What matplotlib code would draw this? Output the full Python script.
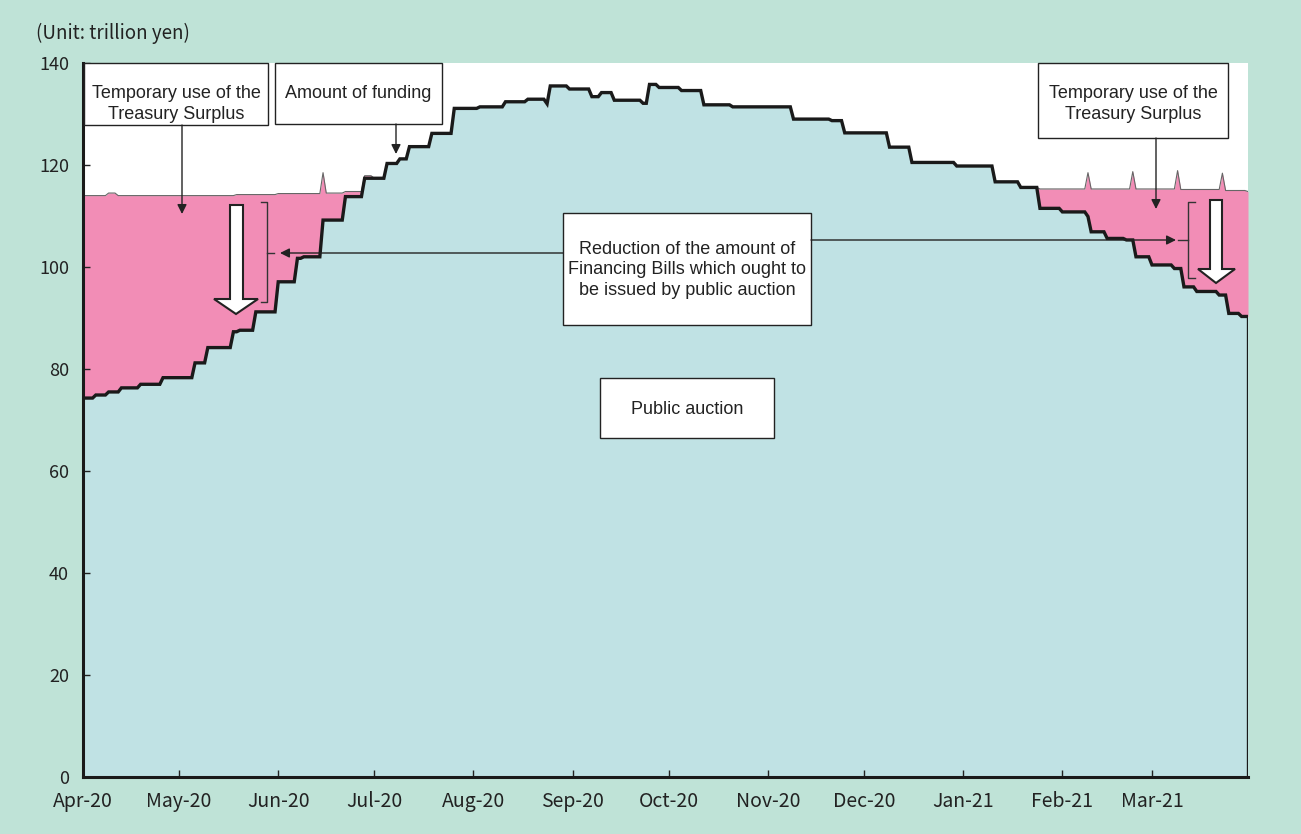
import numpy as np
import pandas as pd
import matplotlib
matplotlib.use("Agg")
import matplotlib.pyplot as plt
import matplotlib.patches as mpatches

# ─── Data (trillion yen), step values ────────────────────────────────────────
auction_dates = ["2020-04-01", "2020-04-05", "2020-04-09", "2020-04-13", "2020-04-19",
                 "2020-04-26", "2020-05-06", "2020-05-10", "2020-05-18", "2020-05-20",
                 "2020-05-25", "2020-06-01", "2020-06-07", "2020-06-09", "2020-06-15",
                 "2020-06-22", "2020-06-28", "2020-07-05", "2020-07-09", "2020-07-12",
                 "2020-07-19", "2020-07-26", "2020-08-03", "2020-08-11", "2020-08-18",
                 "2020-08-24", "2020-08-25", "2020-08-31", "2020-09-07", "2020-09-10",
                 "2020-09-14", "2020-09-23", "2020-09-25", "2020-09-28", "2020-10-05",
                 "2020-10-12", "2020-10-21", "2020-11-09", "2020-11-21", "2020-11-25",
                 "2020-12-09", "2020-12-16", "2020-12-30", "2021-01-11", "2021-01-19",
                 "2021-01-25", "2021-02-01", "2021-02-09", "2021-02-10", "2021-02-15",
                 "2021-02-21", "2021-02-24", "2021-03-01", "2021-03-08", "2021-03-11",
                 "2021-03-15", "2021-03-22", "2021-03-25", "2021-03-29", "2021-03-31"]
auction_vals = [74.3, 74.9, 75.5, 76.3, 77.0,
                78.3, 81.2, 84.2, 87.3, 87.6,
                91.2, 97.1, 101.7, 102.0, 109.2,
                113.8, 117.4, 120.3, 121.2, 123.6,
                126.2, 131.1, 131.4, 132.4, 132.9,
                132.0, 135.5, 134.9, 133.4, 134.2,
                132.7, 132.1, 135.8, 135.2, 134.6,
                131.8, 131.4, 129.0, 128.7, 126.3,
                123.5, 120.5, 119.8, 116.7, 115.6,
                111.5, 110.8, 109.9, 106.9, 105.6,
                105.3, 102.0, 100.4, 99.7, 96.1,
                95.2, 94.5, 90.9, 90.3, 90.3]

# amount of funding while the Treasury Surplus is used (outside it equals auction)
funding_dates = ["2020-04-01", "2020-04-09", "2020-04-12", "2020-05-19", "2020-06-01",
                 "2020-06-15", "2020-06-16", "2020-06-22", "2020-06-28",
                 "2021-01-25", "2021-02-09", "2021-02-10", "2021-02-23", "2021-02-24",
                 "2021-03-09", "2021-03-10", "2021-03-23", "2021-03-24", "2021-03-31"]
funding_vals = [114.0, 114.5, 114.0, 114.2, 114.4,
                118.5, 114.5, 114.8, 117.9,
                115.3, 118.5, 115.3, 118.7, 115.3,
                118.9, 115.2, 118.4, 115.0, 114.8]
surplus_off = ("2020-07-01", "2021-01-25")

month_labels = ["Apr-20", "May-20", "Jun-20", "Jul-20", "Aug-20", "Sep-20",
                "Oct-20", "Nov-20", "Dec-20", "Jan-21", "Feb-21", "Mar-21"]

# ─── Build daily step series ────────────────────────────────────────────────
days = pd.date_range("2020-04-01", "2021-03-31", freq="D")
t = np.arange(len(days))
auction = pd.Series(auction_vals, index=pd.to_datetime(auction_dates)).reindex(days).ffill()
funding = pd.Series(funding_vals, index=pd.to_datetime(funding_dates)).reindex(days).ffill()
mid = (days >= surplus_off[0]) & (days < surplus_off[1])
funding[mid] = auction[mid]
funding = np.maximum(funding.values, auction.values)
auction = auction.values

W, H = 1301, 834
BG = "#BFE3D7"
BLUE = "#C0E2E4"
PINK = "#F28DB6"
JP = ["Noto Sans CJK JP", "DejaVu Sans"]
TF = ["Liberation Sans", "DejaVu Sans"]

def fp(x, y):
    return (x / W, 1 - y / H)

fig = plt.figure(figsize=(W / 100, H / 100), dpi=100)
fig.patch.set_facecolor(BG)
ax = fig.add_axes([83 / W, 1 - 777 / H, (1248 - 83) / W, (777 - 63) / H])
ax.set_facecolor("white")

ax.fill_between(t, 0, auction, color=BLUE, lw=0, zorder=1)
ax.fill_between(t, auction, funding, color=PINK, lw=0, zorder=1)
ax.plot(t, funding, color="#666666", lw=0.8, zorder=2)
ax.plot(t, auction, color="#1a1a1a", lw=2.4, zorder=3, solid_joinstyle="miter")
ax.vlines(t[-1], 0, auction[-1], color="#1a1a1a", lw=2.4, zorder=3)

ax.set_xlim(0, len(t) - 1)
ax.set_ylim(0, 140)
month_pos = [i for i, d in enumerate(days) if d.day == 1]
ax.set_xticks(month_pos)
ax.set_xticklabels(month_labels)
ax.set_yticks(np.arange(0, 141, 20))
ax.tick_params(direction="in", length=5, width=1, colors="#222222")
ax.tick_params(axis="x", pad=10, labelsize=14)
ax.tick_params(axis="y", pad=10, labelsize=13)
for lab in ax.get_xticklabels() + ax.get_yticklabels():
    lab.set_family(JP)
for s in ["top", "right"]:
    ax.spines[s].set_visible(False)
for s in ["left", "bottom"]:
    ax.spines[s].set_linewidth(2.2)
    ax.spines[s].set_color("#1a1a1a")

fig.text(36 / W, 1 - 33 / H, "(Unit: trillion yen)", fontsize=13.5, family=JP,
         va="center", ha="left", color="#222222")

# ─── Text boxes ─────────────────────────────────────────────────────────────
boxes = [
    (84, 63, 268, 125, "Temporary use of the\nTreasury Surplus", 104),
    (275, 63, 442, 124, "Amount of funding", 94),
    (1038, 63, 1228, 138, "Temporary use of the\nTreasury Surplus", 104),
    (563, 213, 811, 325, "Reduction of the amount of\nFinancing Bills which ought to\nbe issued by public auction", 270),
    (600, 378, 774, 438, "Public auction", 409),
]
for x0, y0, x1, y1, txt, ty in boxes:
    ax.add_patch(mpatches.Rectangle(fp(x0, y1), (x1 - x0) / W, (y1 - y0) / H,
                                    transform=fig.transFigure, fc="white", ec="#222222",
                                    lw=1, zorder=5, clip_on=False))
    fig.text((x0 + x1) / 2 / W, 1 - ty / H, txt, ha="center", va="center", fontsize=13,
             family=TF, color="#222222", linespacing=1.3, zorder=6)

# ─── Pointer arrows ─────────────────────────────────────────────────────────
arrows = [((182, 125), (182, 214)), ((396, 124), (396, 154)), ((1156, 138), (1156, 209)),
          ((563, 253), (280, 253)), ((811, 240), (1176, 240))]
for (xa, ya), (xb, yb) in arrows:
    ax.annotate("", xy=fp(xb, yb), xytext=fp(xa, ya), xycoords="figure fraction",
                textcoords="figure fraction",
                arrowprops=dict(arrowstyle="-|>", color="#222222", lw=1, mutation_scale=14,
                                shrinkA=0, shrinkB=0), zorder=6)

# brackets
brackets = [
    [(261, 202), (267, 202), (267, 302), (261, 302)],
    [(1195, 202), (1188, 202), (1188, 278), (1195, 278)],
]
for pts in brackets:
    xs = [p[0] / W for p in pts]
    ys = [1 - p[1] / H for p in pts]
    ax.add_line(plt.Line2D(xs, ys, transform=fig.transFigure, color="#333333", lw=1,
                           zorder=6, clip_on=False))
for (xa, xb, y) in [(267, 274, 253), (1178, 1188, 240)]:
    ax.add_line(plt.Line2D([xa / W, xb / W], [1 - y / H] * 2, transform=fig.transFigure,
                           color="#333333", lw=1, zorder=6, clip_on=False))

# big hollow arrows
def block_arrow(x0, x1, top, hx0, hx1, hbase, tip_x, tip_y):
    pts = [(x0, top), (x1, top), (x1, hbase), (hx1, hbase), (tip_x, tip_y),
           (hx0, hbase), (x0, hbase)]
    return mpatches.Polygon([fp(x, y) for x, y in pts], closed=True,
                            transform=fig.transFigure, fc="white", ec="#222222",
                            lw=1.5, zorder=6, clip_on=False)

ax.add_patch(block_arrow(230, 243, 205, 214, 258, 299, 236, 314))
ax.add_patch(block_arrow(1210, 1222, 200, 1198, 1235, 269, 1216, 283))

fig.savefig("out.png", dpi=100, facecolor=BG)
